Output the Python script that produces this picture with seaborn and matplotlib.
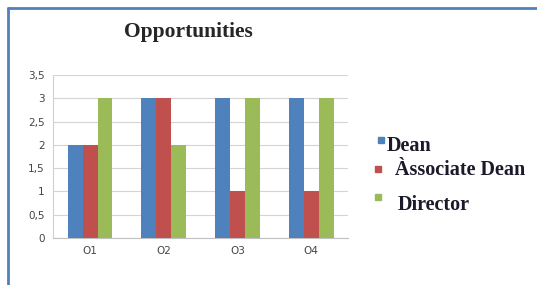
import pandas as pd
import seaborn as sns
import matplotlib.pyplot as plt
from matplotlib.lines import Line2D

# данные с картинки
categories = ['O1', 'O2', 'O3', 'O4']
dean = [2, 3, 3, 3]
associate_dean = [2, 3, 1, 1]
director = [3, 2, 3, 3]
series_names = ['Dean', 'Àssociate Dean', 'Director']
colors = ['#4F81BD', '#C0504D', '#9BBB59']

df = pd.DataFrame({
    'cat': categories * 3,
    'val': dean + associate_dean + director,
    'who': [series_names[0]] * 4 + [series_names[1]] * 4 + [series_names[2]] * 4,
})

sns.set_style('white')
fig = plt.figure(figsize=(5.37, 2.85), dpi=100)
ax = fig.add_axes([0.099, 0.165, 0.549, 0.572])

sns.barplot(data=df, x='cat', y='val', hue='who', palette=colors, width=0.61,
            saturation=1, linewidth=0, ax=ax, legend=False, zorder=3)

ax.set_ylim(0, 3.5)
ax.set_yticks([0, 0.5, 1, 1.5, 2, 2.5, 3, 3.5])
ax.set_yticklabels(['0', '0,5', '1', '1,5', '2', '2,5', '3', '3,5'])
ax.grid(axis='y', color='#d4d4d4', linewidth=0.8, zorder=0)
ax.set_xlabel('')
ax.set_ylabel('')
ax.tick_params(axis='both', labelsize=7.5, colors='#444444', length=0, pad=6)
for s in ['top', 'right']:
    ax.spines[s].set_visible(False)
ax.spines['left'].set_color('#d0d0d0')
ax.spines['bottom'].set_color('#c0c0c0')

fig.text(0.350, 0.887, 'Opportunities', ha='center', va='center',
         family='Liberation Serif', fontweight='bold', fontsize=15.5)

# легенда справа, как в оригинале (неровные отступы)
mark_xy = [(0.7040, 0.497), (0.698, 0.396), (0.698, 0.298)]
text_xy = [(0.7200, 0.486), (0.7356, 0.4035), (0.741, 0.281)]
for name, c, (mx, my), (tx, ty) in zip(series_names, colors, mark_xy, text_xy):
    fig.add_artist(plt.Rectangle((mx, my), 0.011, 0.021,
                                 transform=fig.transFigure, color=c))
    fig.text(tx, ty, name, ha='left', va='center', family='Liberation Serif',
             fontweight='bold', fontsize=14.5, color='#1a1a2a')

# синяя рамка
fig.add_artist(Line2D([0.014, 1.0], [0.973, 0.973], transform=fig.transFigure,
                      color='#4F81BD', linewidth=2))
fig.add_artist(Line2D([0.014, 0.014], [0.0, 0.973], transform=fig.transFigure,
                      color='#4F81BD', linewidth=2))

plt.savefig('out.png', dpi=100)
